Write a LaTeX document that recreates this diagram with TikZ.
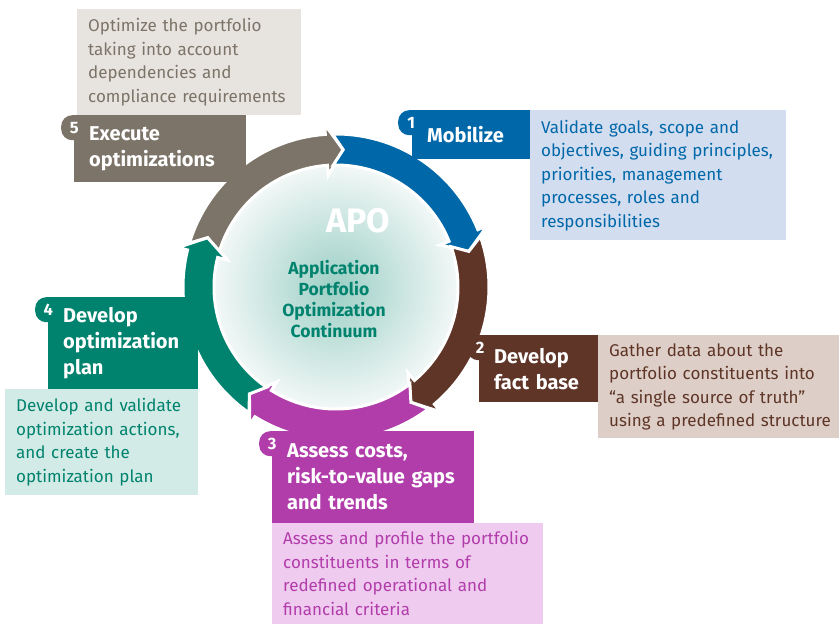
\documentclass[tikz,border=0pt]{standalone}
\usepackage{fontspec}
\setmainfont{Fira Sans}

\definecolor{apoblue}{HTML}{0068A9}
\definecolor{apobrown}{HTML}{5F3527}
\definecolor{apomag}{HTML}{B13DAA}
\definecolor{apoteal}{HTML}{00836E}
\definecolor{apogray}{HTML}{7C7468}
\definecolor{lightblue}{HTML}{D3DDF0}
\definecolor{lightbrown}{HTML}{DDCFC7}
\definecolor{lightmag}{HTML}{F0CBF0}
\definecolor{lightteal}{HTML}{D3EBE6}
\definecolor{lightgray}{HTML}{E7E3DF}
\definecolor{hubteal}{HTML}{9CCFC5}
\definecolor{hubedge}{HTML}{F2F8F7}

\begin{document}
\begin{tikzpicture}[x=1pt,y=1pt,
    stepbox/.style={anchor=north west,inner xsep=15pt,inner ysep=0pt,align=left,text=white,
        font=\fontsize{20}{26}\selectfont\bfseries},
    notebox/.style={anchor=north west,inner xsep=11pt,inner ysep=0pt,align=left,
        font=\fontsize{17}{23.5}\selectfont},
    numtab/.style={anchor=north west,rounded corners=11pt,minimum width=26pt,minimum height=25pt,
        inner sep=0pt,text=white,font=\fontsize{16.5}{16.5}\selectfont\bfseries}]
    \useasboundingbox (0,0) rectangle (839,-624);

    % hub in the middle
    \node[circle,minimum size=244pt,inner sep=0pt,inner color=hubteal,outer color=hubedge] (hub) at (336,-287) {};

    % ring of five arrows, one per step, tips 72 degrees apart
    \begin{scope}[shift={(336,-287)}]
        \foreach \col/\tip in {apogray/87,apoblue/15,apobrown/-57,apomag/-129,apoteal/159}{
            \filldraw[fill=\col,draw=white,line width=3pt]
                ({\tip+76.3}:153) arc[start angle=\tip+76.3,end angle=\tip+7,radius=153]
                -- ({\tip+7}:163) -- (\tip:137.5) -- ({\tip+7}:112) -- ({\tip+7}:122)
                arc[start angle=\tip+7,end angle=\tip+76.3,radius=122]
                -- ({\tip+72}:137.5) -- cycle;
        }
    \end{scope}

    \node[text=white,font=\fontsize{34}{34}\selectfont\bfseries] (apo) at (358,-221) {APO};
    \node[align=center,text=apoteal,font=\fontsize{17.5}{21.3}\selectfont\bfseries] (aponame) at (334,-299)
        {Application\\Portfolio\\Optimization\\Continuum};

    % 1 mobilize
    \node[stepbox,fill=apoblue,text width=88pt,minimum height=49pt] (s1) at (412,-110) {Mobilize};
    \node[numtab,fill=apoblue] (n1) at (398,-110) {1};
    \node[notebox,fill=lightblue,text=apoblue,text width=234pt,minimum height=130pt] (d1) at (530,-110)
        {Validate goals, scope and\\objectives, guiding principles,\\priorities, management\\processes, roles and\\responsibilities};

    % 2 fact base, its note runs to the right edge
    \node[stepbox,fill=apobrown,text width=89pt,minimum height=67pt] (s2) at (479,-335) {Develop\\fact base};
    \node[numtab,fill=apobrown] (n2) at (467,-335) {2};
    \node[notebox,fill=lightbrown,text=apobrown,text width=230pt,minimum height=103pt] (d2) at (598,-335)
        {Gather data about the\\portfolio constituents into\\“a single source of truth”\\using a predefined structure};

    % 3 assess
    \node[stepbox,fill=apomag,text width=172pt,minimum height=92pt] (s3) at (272,-431) {Assess costs,\\risk-to-value gaps\\and trends};
    \node[numtab,fill=apomag] (n3) at (259,-431) {3};
    \node[notebox,fill=lightmag,text=apomag,text width=249pt,minimum height=101pt] (d3) at (272,-523)
        {Assess and profile the portfolio\\constituents in terms of\\redefined operational and\\financial criteria};

    % 4 optimization plan
    \node[stepbox,fill=apoteal,text width=120pt,minimum height=92pt] (s4) at (48,-297) {Develop\\optimization\\plan};
    \node[numtab,fill=apoteal] (n4) at (35,-297) {4};
    \node[notebox,fill=lightteal,text=apoteal,text width=171pt,minimum height=106pt] (d4) at (5,-389)
        {Develop and validate\\optimization actions,\\and create the\\optimization plan};

    % 5 execute
    \node[stepbox,fill=apogray,text width=142pt,minimum height=67pt] (s5) at (74,-115) {Execute\\optimizations};
    \node[numtab,fill=apogray] (n5) at (61,-115) {5};
    \node[notebox,fill=lightgray,text=apogray,text width=202pt,minimum height=106pt] (d5) at (77,-9)
        {Optimize the portfolio\\taking into account\\dependencies and\\compliance requirements};
\end{tikzpicture}
\end{document}
